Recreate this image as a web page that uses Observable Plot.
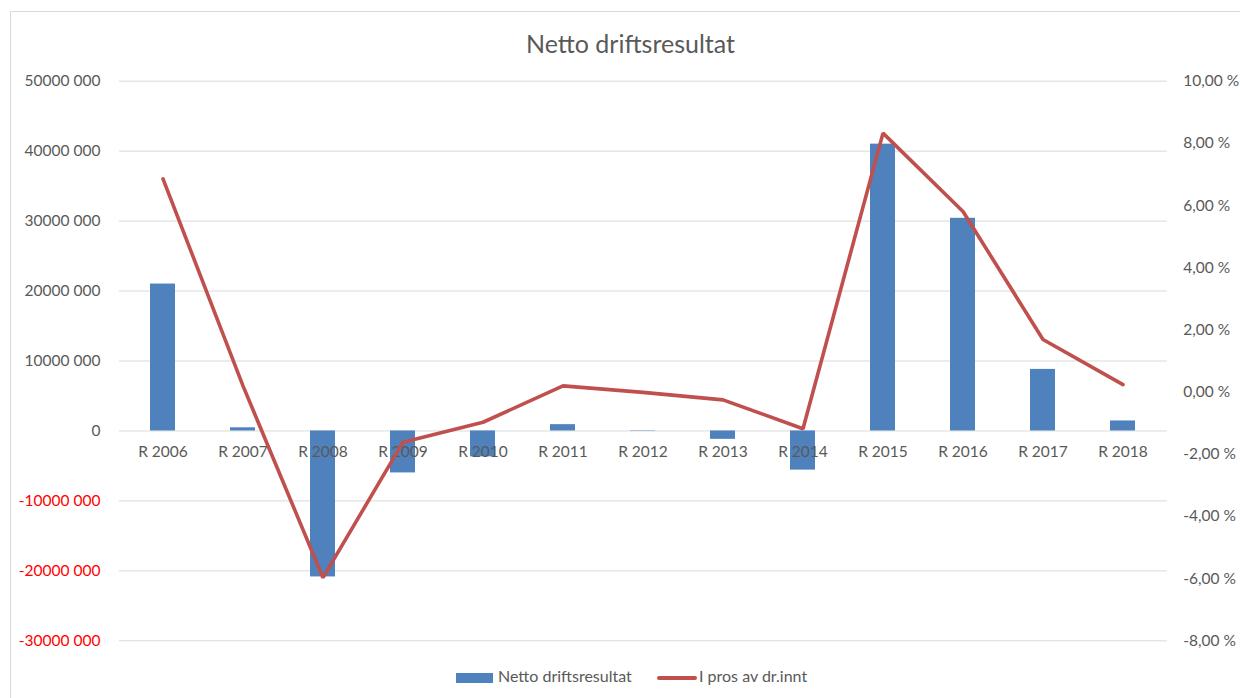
<!DOCTYPE html>
<html>
<head>
<meta charset="utf-8">
<script src="https://cdn.jsdelivr.net/npm/d3@7"></script>
<script src="https://cdn.jsdelivr.net/npm/@observablehq/plot@0.6"></script>
<style>
  html, body { margin: 0; padding: 0; background: #ffffff; }
  #wrap { position: relative; width: 1240px; height: 698px; overflow: hidden; font-family: Lato, "Open Sans", sans-serif; }
  #border { position: absolute; left: 10px; top: 11px; width: 1260px; height: 720px; border: 1px solid #d9d9d9; z-index: 2; pointer-events: none; }
  #title { position: absolute; left: 630.5px; top: 28px; transform: translateX(-50%); font-size: 25px; color: #595959; white-space: nowrap; }
  #chart { position: absolute; left: 0; top: 60px; }
  .leg { position: absolute; font-size: 16px; color: #595959; white-space: nowrap; }
</style>
</head>
<body>
<div id="wrap">
  <div id="border"></div>
  <div id="title">Netto driftsresultat</div>
  <div id="chart"></div>
  <div class="leg" style="left:456px; top:673px; width:37px; height:9.5px; background:#4f81bd;"></div>
  <div class="leg" style="left:498px; top:666px;">Netto driftsresultat</div>
  <div class="leg" style="left:657px; top:676px; width:40px; height:3.5px; background:#c0504d; border-radius:2px;"></div>
  <div class="leg" style="left:699px; top:666px;">I pros av dr.innt</div>
</div>
<script>
const categories = ["R 2006", "R 2007", "R 2008", "R 2009", "R 2010", "R 2011", "R 2012", "R 2013", "R 2014", "R 2015", "R 2016", "R 2017", "R 2018"];
const nettoDriftsresultat = [21000000, 450000, -20870000, -6000000, -3700000, 900000, 50000, -1200000, -5600000, 41000000, 30400000, 8800000, 1430000];
const prosentAvDriftsinntekter = [6.86, 0.2, -5.97, -1.61, -0.97, 0.2, -0.01, -0.25, -1.18, 8.33, 5.81, 1.69, 0.24];

const leftTicks = [-30000000, -20000000, -10000000, 0, 10000000, 20000000, 30000000, 40000000, 50000000];
const leftTickLabels = ["-30000 000", "-20000 000", "-10000 000", "0", "10000 000", "20000 000", "30000 000", "40000 000", "50000 000"];
const rightTicks = [-8, -6, -4, -2, 0, 2, 4, 6, 8, 10];
const rightTickLabels = ["-8,00 %", "-6,00 %", "-4,00 %", "-2,00 %", "0,00 %", "2,00 %", "4,00 %", "6,00 %", "8,00 %", "10,00 %"];

// left domain and right domain are aligned: -30M <-> -8 %, 50M <-> 10 %
const leftDomain = [-30000000, 50000000];
const rightDomain = [-8, 10];
const toLeft = p => leftDomain[0] + (p - rightDomain[0]) / (rightDomain[1] - rightDomain[0]) * (leftDomain[1] - leftDomain[0]);

const rows = categories.map((c, i) => ({cat: c, netto: nettoDriftsresultat[i], pct: prosentAvDriftsinntekter[i]}));
const leftAxis = leftTicks.map((v, i) => ({v, label: leftTickLabels[i]}));
const rightAxis = rightTicks.map((v, i) => ({v: toLeft(v), label: rightTickLabels[i]}));

const chart = Plot.plot({
  width: 1240,
  height: 610,
  marginTop: 20.7,
  marginBottom: 29.7,
  marginLeft: 119,
  marginRight: 73.3,
  style: {fontFamily: "Lato, 'Open Sans', sans-serif", fontSize: "15.5px", background: "transparent", overflow: "visible"},
  x: {type: "band", domain: categories, paddingInner: 0.686, paddingOuter: 0.343, axis: null},
  y: {domain: leftDomain, axis: null},
  marks: [
    Plot.ruleY(leftTicks, {stroke: "#d9d9d9", strokeWidth: 1}),
    Plot.barY(rows, {x: "cat", y: "netto", fill: "#4f81bd"}),
    Plot.text(rows, {x: "cat", y: () => 0, text: "cat", dy: 21.5, fill: "#595959", lineAnchor: "middle"}),
    Plot.line(rows, {x: "cat", y: d => toLeft(d.pct), stroke: "#c0504d", strokeWidth: 3.6, strokeLinejoin: "miter", strokeLinecap: "round"}),
    Plot.text(leftAxis.filter(d => d.v >= 0), {y: "v", text: "label", frameAnchor: "left", textAnchor: "end", dx: -19, fill: "#595959"}),
    Plot.text(leftAxis.filter(d => d.v < 0), {y: "v", text: "label", frameAnchor: "left", textAnchor: "end", dx: -19, fill: "#ff0000"}),
    Plot.text(rightAxis, {y: "v", text: "label", frameAnchor: "right", textAnchor: "start", dx: 16, fill: "#595959"})
  ]
});
document.getElementById("chart").appendChild(chart);
</script>
</body>
</html>
